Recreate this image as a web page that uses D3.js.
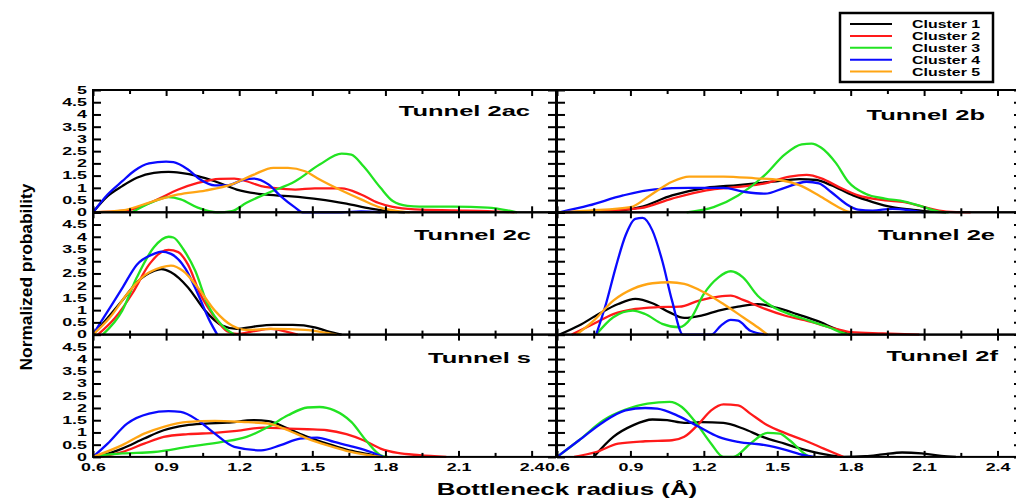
<!DOCTYPE html>
<html>
<head>
<meta charset="utf-8">
<script src="https://cdn.jsdelivr.net/npm/d3@7"></script>
<style>
  body { margin: 0; background: #fff; }
  svg { display: block; }
  text { font-family: "Liberation Sans", Arial, sans-serif; }
</style>
</head>
<body>
<script>
// ---- data ----
const clusters = ["Cluster 1", "Cluster 2", "Cluster 3", "Cluster 4", "Cluster 5"];
const clusterColors = ["#000000", "#ff1a1a", "#22e322", "#0a0aff", "#ffa514"];
const tunnels = ["Tunnel 2ac", "Tunnel 2b", "Tunnel 2c", "Tunnel 2e", "Tunnel s", "Tunnel 2f"];
const xTickValues = [0.6, 0.9, 1.2, 1.5, 1.8, 2.1, 2.4];
const xMinorValues = [0.75, 1.05, 1.35, 1.65, 1.95, 2.25];
const yTickValues = [0, 0.5, 1, 1.5, 2, 2.5, 3, 3.5, 4, 4.5, 5];

// each tunnel: [cluster1, cluster2, cluster3, cluster4, cluster5], points are [radius, probability]
const tunnel2ac = [
  [[0.6,0],[0.66,0.66],[0.72,1.07],[0.78,1.41],[0.85,1.61],[0.91,1.65],[0.96,1.61],[1.03,1.48],[1.10,1.27],[1.19,0.93],[1.30,0.73],[1.40,0.66],[1.53,0.53],[1.64,0.35],[1.74,0.15],[1.81,0.05],[1.88,0]],
  [[0.6,0],[0.74,0.08],[0.85,0.46],[0.95,0.93],[1.03,1.2],[1.12,1.37],[1.18,1.38],[1.23,1.27],[1.29,1.07],[1.34,1.0],[1.43,0.93],[1.51,0.98],[1.62,0.98],[1.70,0.73],[1.77,0.39],[1.83,0.22],[1.92,0.12],[2.08,0.08],[2.22,0.05],[2.33,0]],
  [[0.76,0],[0.84,0.4],[0.91,0.62],[0.96,0.53],[1.03,0.19],[1.11,0],[1.17,0.05],[1.23,0.39],[1.32,0.8],[1.43,1.27],[1.53,1.95],[1.62,2.4],[1.66,2.36],[1.71,1.88],[1.78,1.0],[1.83,0.46],[1.89,0.26],[1.94,0.23],[2.08,0.23],[2.22,0.19],[2.30,0.08],[2.34,0]],
  [[0.6,0],[0.66,0.73],[0.72,1.27],[0.77,1.7],[0.83,2.0],[0.9,2.07],[0.93,2.05],[0.99,1.75],[1.04,1.34],[1.10,1.1],[1.15,1.1],[1.22,1.34],[1.26,1.38],[1.32,1.14],[1.37,0.66],[1.43,0.19],[1.46,0],[1.62,0],[1.70,0.04],[1.78,0]],
  [[0.6,0],[0.72,0.08],[0.85,0.46],[0.95,0.73],[1.06,0.89],[1.17,1.14],[1.26,1.54],[1.34,1.82],[1.40,1.82],[1.47,1.68],[1.53,1.34],[1.62,0.89],[1.70,0.53],[1.78,0.19],[1.85,0.05],[1.90,0]]
];
const tunnel2b = [
  [[0.61,0],[0.80,0.03],[0.94,0.21],[1.07,0.69],[1.21,1.0],[1.34,1.11],[1.48,1.25],[1.59,1.36],[1.66,1.32],[1.72,1.11],[1.81,0.69],[1.89,0.42],[1.97,0.21],[2.05,0.11],[2.13,0.03],[2.19,0]],
  [[0.61,0],[0.80,0.07],[0.94,0.17],[1.07,0.56],[1.21,0.9],[1.34,1.04],[1.45,1.18],[1.55,1.46],[1.62,1.53],[1.68,1.39],[1.75,1.04],[1.83,0.69],[1.94,0.49],[2.02,0.42],[2.10,0.21],[2.19,0.03],[2.29,0]],
  [[1.13,0],[1.24,0.21],[1.34,0.69],[1.45,1.53],[1.53,2.36],[1.60,2.78],[1.64,2.81],[1.68,2.64],[1.74,2.01],[1.79,1.25],[1.86,0.76],[1.94,0.56],[2.02,0.44],[2.10,0.21],[2.16,0.03],[2.20,0]],
  [[0.61,0],[0.73,0.28],[0.87,0.69],[1.00,0.94],[1.14,1.0],[1.28,1.0],[1.37,0.83],[1.45,0.76],[1.53,1.0],[1.62,1.25],[1.67,1.18],[1.72,0.83],[1.78,0.35],[1.83,0.11],[1.89,0.07],[1.97,0.14],[2.05,0.07],[2.10,0]],
  [[0.61,0],[0.73,0.07],[0.90,0.21],[0.98,0.69],[1.07,1.25],[1.14,1.46],[1.28,1.46],[1.41,1.39],[1.51,1.32],[1.59,1.11],[1.67,0.69],[1.75,0.21],[1.79,0.03],[1.82,0]]
];
const tunnel2c = [
  [[0.6,0],[0.66,0.68],[0.72,1.39],[0.78,2.14],[0.85,2.6],[0.88,2.68],[0.92,2.55],[0.99,1.93],[1.06,0.98],[1.13,0.37],[1.19,0.23],[1.26,0.33],[1.34,0.4],[1.42,0.4],[1.51,0.3],[1.56,0.14],[1.62,0]],
  [[0.62,0],[0.69,0.68],[0.76,1.66],[0.83,2.86],[0.88,3.37],[0.91,3.46],[0.95,3.37],[0.99,2.86],[1.04,1.66],[1.10,0.7],[1.15,0.14],[1.19,0.03],[1.26,0.14],[1.33,0.23],[1.40,0.1],[1.44,0]],
  [[0.64,0],[0.72,0.98],[0.78,2.34],[0.85,3.57],[0.91,4.0],[0.93,3.97],[0.97,3.5],[1.02,2.6],[1.07,1.25],[1.13,0.37],[1.18,0]],
  [[0.6,0],[0.66,0.95],[0.72,1.9],[0.78,2.86],[0.85,3.3],[0.88,3.39],[0.92,3.3],[0.98,2.69],[1.03,1.67],[1.08,0.54],[1.11,0]],
  [[0.6,0],[0.67,0.71],[0.74,1.66],[0.81,2.41],[0.88,2.75],[0.92,2.82],[0.97,2.6],[1.03,1.93],[1.10,0.98],[1.17,0.37],[1.23,0.19],[1.34,0.23],[1.47,0.19],[1.58,0.03],[1.60,0]]
];
const tunnel2e = [
  [[0.61,0],[0.69,0.37],[0.77,0.84],[0.85,1.25],[0.92,1.46],[0.99,1.28],[1.06,0.91],[1.12,0.68],[1.19,0.78],[1.26,0.98],[1.34,1.14],[1.42,1.25],[1.50,1.09],[1.58,0.84],[1.66,0.57],[1.74,0.23],[1.80,0]],
  [[0.66,0],[0.75,0.44],[0.83,0.84],[0.92,1.05],[1.01,1.12],[1.10,1.14],[1.18,1.39],[1.26,1.55],[1.31,1.59],[1.36,1.42],[1.45,1.05],[1.53,0.78],[1.63,0.54],[1.74,0.23],[1.80,0.1],[1.93,0.05],[2.08,0]],
  [[0.76,0],[0.83,0.71],[0.91,0.98],[0.96,0.84],[1.03,0.44],[1.10,0.3],[1.15,0.71],[1.20,1.66],[1.26,2.34],[1.31,2.59],[1.36,2.34],[1.42,1.59],[1.49,1.09],[1.55,0.84],[1.63,0.57],[1.71,0.3],[1.78,0.03],[1.80,0]],
  [[0.76,0],[0.80,1.25],[0.84,2.75],[0.88,4.05],[0.92,4.73],[0.95,4.77],[0.99,4.25],[1.03,3.02],[1.07,1.39],[1.115,0],[1.23,0],[1.27,0.37],[1.31,0.6],[1.34,0.57],[1.39,0.16],[1.46,0]],
  [[0.68,0],[0.75,0.57],[0.83,1.39],[0.91,1.87],[0.99,2.1],[1.06,2.14],[1.12,2.07],[1.20,1.73],[1.28,1.25],[1.36,0.71],[1.42,0.3],[1.46,0]]
];
const tunnelS = [
  [[0.62,0],[0.72,0.34],[0.81,0.75],[0.89,1.09],[0.98,1.29],[1.06,1.36],[1.15,1.4],[1.26,1.5],[1.32,1.46],[1.40,1.16],[1.48,0.82],[1.56,0.54],[1.64,0.3],[1.73,0.11],[1.78,0]],
  [[0.63,0],[0.72,0.2],[0.81,0.54],[0.89,0.82],[0.99,0.93],[1.10,0.98],[1.19,1.06],[1.30,1.2],[1.40,1.16],[1.48,1.13],[1.56,1.09],[1.64,0.93],[1.71,0.68],[1.78,0.34],[1.85,0.16],[1.94,0.07],[2.05,0]],
  [[0.6,0.03],[0.72,0.14],[0.85,0.2],[0.99,0.41],[1.13,0.61],[1.23,0.82],[1.32,1.23],[1.40,1.7],[1.48,2.02],[1.53,2.04],[1.59,1.9],[1.66,1.43],[1.72,0.68],[1.78,0.07],[1.81,0]],
  [[0.6,0],[0.66,0.54],[0.74,1.36],[0.83,1.77],[0.91,1.87],[0.96,1.84],[1.03,1.5],[1.10,0.95],[1.18,0.41],[1.29,0.27],[1.37,0.48],[1.45,0.75],[1.52,0.79],[1.59,0.61],[1.67,0.41],[1.74,0.2],[1.79,0]],
  [[0.6,0],[0.72,0.48],[0.81,0.95],[0.89,1.23],[0.99,1.43],[1.10,1.47],[1.21,1.43],[1.32,1.36],[1.40,1.09],[1.48,0.75],[1.56,0.48],[1.64,0.25],[1.73,0.07],[1.78,0]]
];
const tunnel2f = [
  [[0.75,0],[0.83,0.82],[0.91,1.29],[0.99,1.53],[1.05,1.5],[1.12,1.39],[1.19,1.42],[1.28,1.39],[1.36,1.16],[1.44,0.82],[1.53,0.54],[1.61,0.3],[1.69,0.11],[1.77,0],[1.86,0.03],[1.93,0.1],[2.01,0.18],[2.09,0.14],[2.17,0.04],[2.23,0]],
  [[0.67,0],[0.76,0.2],[0.85,0.54],[0.96,0.64],[1.07,0.68],[1.12,0.82],[1.18,1.36],[1.23,1.9],[1.28,2.15],[1.34,2.11],[1.39,1.77],[1.46,1.29],[1.53,0.98],[1.61,0.68],[1.69,0.34],[1.77,0]],
  [[0.6,0],[0.69,0.68],[0.79,1.5],[0.88,1.93],[0.97,2.18],[1.06,2.25],[1.11,2.04],[1.16,1.5],[1.23,0.54],[1.28,0],[1.32,0],[1.39,0.54],[1.46,0.98],[1.51,0.95],[1.55,0.68],[1.61,0.14],[1.63,0]],
  [[0.6,0],[0.69,0.68],[0.79,1.43],[0.88,1.9],[0.96,2.0],[1.01,1.97],[1.09,1.7],[1.18,1.23],[1.26,0.82],[1.34,0.61],[1.45,0.48],[1.53,0.3],[1.61,0.07],[1.65,0]],
  []
];
const curves = [tunnel2ac, tunnel2b, tunnel2c, tunnel2e, tunnelS, tunnel2f];

// ---- layout ----
const W = 1016, H = 498;
const colRange = [[93, 556], [557, 1022]];
const rowTop = 90, rowH = 122.3;
const titleAt = [[530, 116], [985, 120], [531, 240], [995, 240], [531, 363], [998, 361]];
const SX = 1.7; // horizontal stretch of all lettering in the source figure

const svg = d3.select("body").append("svg").attr("width", W).attr("height", H);

function cleanAxis(sel) {
  sel.select(".domain").remove();
  sel.attr("font-family", null).attr("font-size", null);
  sel.selectAll(".tick line").attr("stroke", "#000").attr("stroke-width", 2);
}

tunnels.forEach((name, i) => {
  const col = i % 2, row = Math.floor(i / 2);
  const x = d3.scaleLinear().domain([0.6, 2.5]).range(colRange[col]);
  const y = d3.scaleLinear().domain([0, 5]).range([rowTop + (row + 1) * rowH, rowTop + row * rowH]);
  const [x0, x1] = x.range();
  const [yb, yt] = y.range();
  const g = svg.append("g");

  const line = d3.line().x(d => x(d[0])).y(d => y(d[1])).curve(d3.curveMonotoneX);
  curves[i].forEach((pts, k) => {
    if (!pts.length) return;
    g.append("path")
      .attr("d", line(pts))
      .attr("fill", "none")
      .attr("stroke", clusterColors[k])
      .attr("stroke-width", 2.3)
      .attr("stroke-linejoin", "round");
  });

  // left axis (labels only on left column)
  const fmtY = col === 0 ? (d => (row > 0 && d === 5) ? "" : String(d)) : (() => "");
  const ax = g.append("g").attr("transform", `translate(${x0},0)`)
    .call(d3.axisLeft(y).tickValues(yTickValues).tickSize(-8).tickPadding(6).tickFormat(fmtY));
  cleanAxis(ax);
  ax.selectAll("text")
    .attr("x", -6 / SX)
    .attr("transform", `scale(${SX},1)`)
    .style("font-size", "10.5px").style("font-weight", "bold").attr("fill", "#000");

  // right axis
  const axR = g.append("g").attr("transform", `translate(${x1},0)`)
    .call(d3.axisLeft(y).tickValues(yTickValues).tickSize(8).tickFormat(() => ""));
  cleanAxis(axR);

  // top axis
  const axT = g.append("g").attr("transform", `translate(0,${yt})`)
    .call(d3.axisTop(x).tickValues(xTickValues).tickSize(-6).tickFormat(() => ""));
  cleanAxis(axT);
  const axTm = g.append("g").attr("transform", `translate(0,${yt})`)
    .call(d3.axisTop(x).tickValues(xMinorValues).tickSize(-4).tickFormat(() => ""));
  cleanAxis(axTm);

  // bottom axis
  const axB = g.append("g").attr("transform", `translate(0,${yb})`)
    .call(d3.axisBottom(x).tickValues(xTickValues).tickSize(-6).tickPadding(7)
      .tickFormat(row === 2 ? (d => d.toFixed(1)) : (() => "")));
  cleanAxis(axB);
  axB.selectAll("text")
    .attr("transform", `scale(${SX},1)`)
    .style("font-size", "10.5px").style("font-weight", "bold").attr("fill", "#000");
  const axBm = g.append("g").attr("transform", `translate(0,${yb})`)
    .call(d3.axisBottom(x).tickValues(xMinorValues).tickSize(-4).tickFormat(() => ""));
  cleanAxis(axBm);

  // frame
  g.append("rect")
    .attr("x", x0).attr("y", yt)
    .attr("width", x1 - x0).attr("height", yb - yt)
    .attr("fill", "none").attr("stroke", "#000").attr("stroke-width", 2);

  // title
  g.append("text")
    .attr("transform", `translate(${titleAt[i][0]},${titleAt[i][1]}) scale(${SX},1)`)
    .attr("text-anchor", "end")
    .style("font-size", "15px").style("font-weight", "bold")
    .text(name);
});

// legend
const lg = svg.append("g");
lg.append("rect")
  .attr("x", 840).attr("y", 13).attr("width", 153).attr("height", 69)
  .attr("fill", "#fff").attr("stroke", "#000").attr("stroke-width", 2.5);
clusters.forEach((c, k) => {
  const yy = 24 + k * 11.9;
  lg.append("line").attr("x1", 850).attr("x2", 892).attr("y1", yy).attr("y2", yy)
    .attr("stroke", clusterColors[k]).attr("stroke-width", 2);
  lg.append("text")
    .attr("transform", `translate(912,${yy}) scale(1.45,1)`)
    .attr("dy", "0.36em")
    .style("font-size", "11px").style("font-weight", "bold")
    .text(c);
});

// axis titles
svg.append("text")
  .attr("transform", `translate(567,495) scale(1.62,1)`)
  .attr("text-anchor", "middle")
  .style("font-size", "16px").style("font-weight", "bold")
  .text("Bottleneck radius (Å)");

svg.append("text")
  .attr("transform", "translate(32,277) rotate(-90)")
  .attr("text-anchor", "middle")
  .attr("textLength", 187).attr("lengthAdjust", "spacingAndGlyphs")
  .style("font-family", "'Liberation Sans Narrow', 'Liberation Sans', sans-serif")
  .style("font-size", "16px").style("font-weight", "bold")
  .text("Normalized probability");
</script>
</body>
</html>
